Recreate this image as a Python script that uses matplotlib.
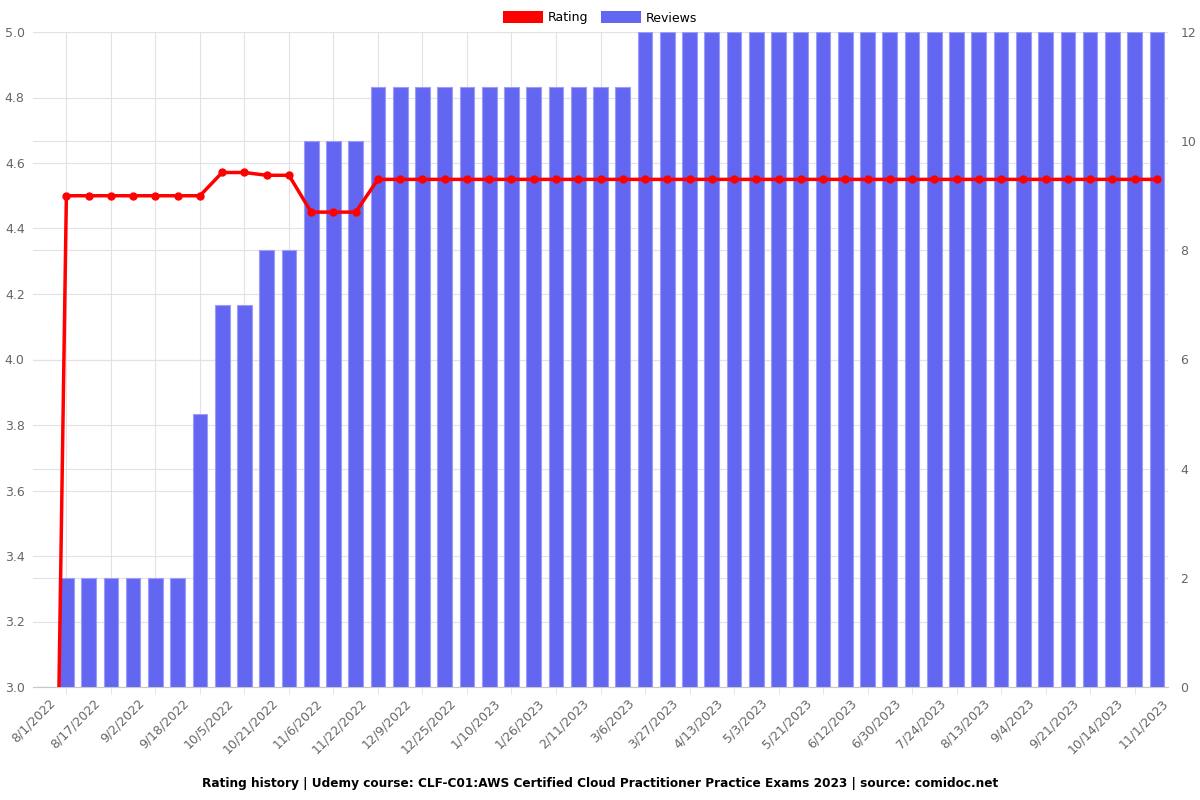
import matplotlib.pyplot as plt
from matplotlib.patches import Patch

# every other category carries a label (51 categories, labels at even index)
date_labels = ['8/1/2022', '8/17/2022', '9/2/2022', '9/18/2022', '10/5/2022', '10/21/2022',
               '11/6/2022', '11/22/2022', '12/9/2022', '12/25/2022', '1/10/2023', '1/26/2023',
               '2/11/2023', '3/6/2023', '3/27/2023', '4/13/2023', '5/3/2023', '5/21/2023',
               '6/12/2023', '6/30/2023', '7/24/2023', '8/13/2023', '9/4/2023', '9/21/2023',
               '10/14/2023', '11/1/2023']

reviews = [0, 2, 2, 2, 2, 2, 2, 5, 7, 7, 8, 8, 10, 10, 10,
           11, 11, 11, 11, 11, 11, 11, 11, 11, 11, 11, 11,
           12, 12, 12, 12, 12, 12, 12, 12, 12, 12, 12, 12,
           12, 12, 12, 12, 12, 12, 12, 12, 12, 12, 12, 12]

rating = [0, 4.5, 4.5, 4.5, 4.5, 4.5, 4.5, 4.5, 4.571, 4.571, 4.5625, 4.5625,
          4.45, 4.45, 4.45,
          4.55, 4.55, 4.55, 4.55, 4.55, 4.55, 4.55, 4.55, 4.55, 4.55, 4.55, 4.55,
          4.55, 4.55, 4.55, 4.55, 4.55, 4.55, 4.55, 4.55, 4.55, 4.55, 4.55, 4.55,
          4.55, 4.55, 4.55, 4.55, 4.55, 4.55, 4.55, 4.55, 4.55, 4.55, 4.55, 4.55]

x = list(range(len(reviews)))
label_pos = [i + 0.4 for i in x[::2]]  # rotated labels end slightly right of the category
grid_pos = x[1::2]

bar_color = '#6366f1'
line_color = '#ff0000'
grid_color = '#e2e2e2'
text_color = '#666666'

fig = plt.figure(figsize=(12, 8), dpi=100)
ax = fig.add_axes([33 / 1200, 113 / 800, 1135 / 1200, 655 / 800])
ax2 = ax.twinx()

# left axis: rating
ax.set_xlim(-0.5, len(x) - 0.5)
ax.set_ylim(3.0, 5.0)
ax.set_yticks([3.0, 3.2, 3.4, 3.6, 3.8, 4.0, 4.2, 4.4, 4.6, 4.8, 5.0])
ax.yaxis.grid(True, color=grid_color, linewidth=0.8)
ax.set_xticks(label_pos)
ax.set_xticklabels(date_labels, rotation=45, ha='right', rotation_mode='anchor',
                   va='center', fontsize=9, color=text_color)
ax.set_xticks(grid_pos, minor=True)
ax.xaxis.grid(True, which='minor', color=grid_color, linewidth=0.8)
ax.tick_params(axis='x', which='major', length=0, pad=10)
ax.tick_params(axis='x', which='minor', length=5, color=grid_color)
ax.tick_params(axis='y', length=0, labelsize=9, labelcolor=text_color, pad=6)

# right axis: reviews, bars + rating line drawn here so they sit above grid
ax2.set_ylim(0, 12)
ax2.set_yticks([0, 2, 4, 6, 8, 10, 12])
ax2.yaxis.grid(True, color=grid_color, linewidth=0.8)
ax2.set_axisbelow(True)
ax2.tick_params(axis='y', length=0, labelsize=9, labelcolor=text_color, pad=9)

ax2.bar(x, reviews, width=0.66, color=bar_color, edgecolor='#9b9df6', linewidth=0.8, zorder=2)
ax2.plot(x, rating, color=line_color, linewidth=2.5, marker='o', markersize=5,
         transform=ax.transData, zorder=4)

for a in (ax, ax2):
    for s in a.spines.values():
        s.set_visible(False)
ax.spines['bottom'].set_visible(True)
ax.spines['bottom'].set_color('#c8c8c8')

handles = [Patch(facecolor=line_color, label='Rating'),
           Patch(facecolor=bar_color, label='Reviews')]
fig.legend(handles=handles, loc='upper center', bbox_to_anchor=(0.5, 1.0), ncol=2,
           frameon=False, fontsize=9, handlelength=3.2, handleheight=1.1,
           columnspacing=1.0, handletextpad=0.4)

fig.text(0.5, 1 - 783 / 800,
         'Rating history | Udemy course: CLF-C01:AWS Certified Cloud Practitioner Practice Exams 2023 | source: comidoc.net',
         ha='center', va='center', fontsize=8.7, fontweight='bold')

fig.savefig('out.png', dpi=100)
